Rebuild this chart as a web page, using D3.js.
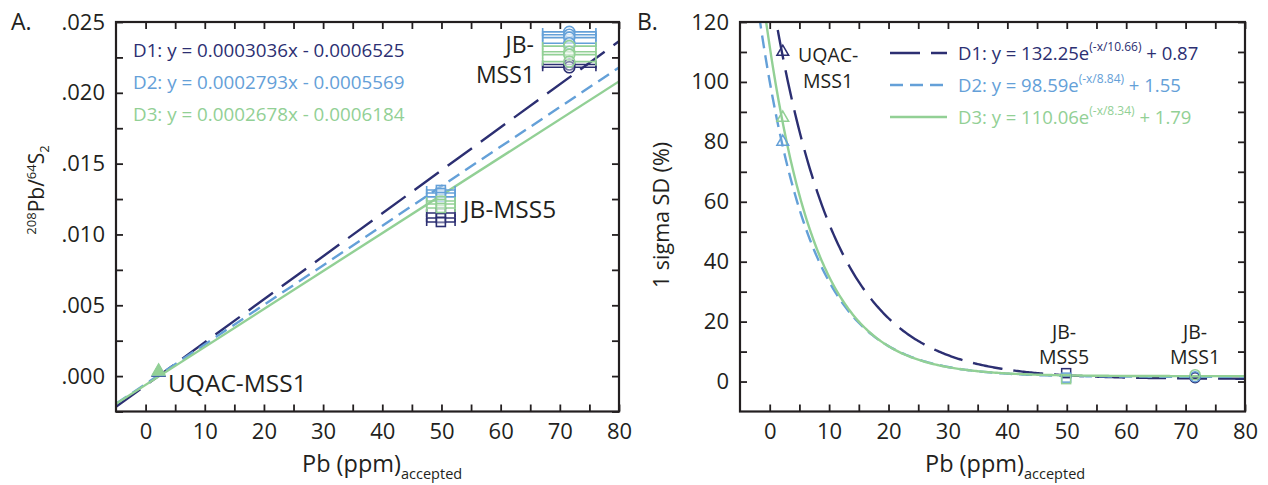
<!DOCTYPE html>
<html><head><meta charset="utf-8">
<script src="https://cdn.jsdelivr.net/npm/d3@7"></script>
<style>body{margin:0;background:#fff} text{font-family:"Open Sans",sans-serif;fill:#231f20}</style>
</head><body><svg id="c" width="1268" height="485"></svg>
<script>
// ---------- data ----------
const datasets = ["D1", "D2", "D3"];
const colors = ["#2c2f72", "#64a0d8", "#92d095"];
const dashes = ["30,11", "13,7", null];
// linear calibration fits (panel A)
const linSlope = [0.0003036, 0.0002793, 0.0002678];
const linIntercept = [-0.0006525, -0.0005569, -0.0006184];
const linLabels = ["D1: y = 0.0003036x - 0.0006525", "D2: y = 0.0002793x - 0.0005569", "D3: y = 0.0002678x - 0.0006184"];
// exponential fits (panel B)
const expAmp = [132.25, 98.59, 110.06];
const expTau = [10.66, 8.84, 8.34];
const expOff = [0.87, 1.55, 1.79];
const expLabelA = ["D1: y = 132.25e", "D2: y = 98.59e", "D3: y = 110.06e"];
const expLabelSup = ["(-x/10.66)", "(-x/8.84)", "(-x/8.34)"];
const expLabelB = [" + 0.87", " + 1.55", " + 1.79"];
// reference materials
const pbUQAC = 2.2, pbMSS5 = 49.9, pbMSS1 = 71.6;
const errMSS5 = 2.4, errMSS1 = 4.5;
// 208Pb/64S2 ratio replicates, per dataset D1, D2, D3
const ratioUQAC = [[0.00024], [0.00028], [0.00034]];
const ratioMSS5 = [[0.01152, 0.01116, 0.01088], [0.01314, 0.01293, 0.01265], [0.01236, 0.01215, 0.01187]];
const ratioMSS1 = [[0.0220, 0.0218], [0.0243, 0.0241, 0.0239, 0.0235], [0.0233, 0.0229, 0.0227, 0.0222]];
// 1 sigma SD (%) per dataset D1, D2, D3
const sdUQAC = [110, 80, 88];
const sdMSS5 = [2.8, 1.3, 0.8];
const sdMSS1 = [1.3, 1.6, 2.3];
// ticks
const xTickValues = [0, 10, 20, 30, 40, 50, 60, 70, 80];
const xTickLabels = ["0", "10", "20", "30", "40", "50", "60", "70", "80"];
const xMinorTicks = [5, 15, 25, 35, 45, 55, 65, 75];
const yTickValuesA = [0, 0.005, 0.010, 0.015, 0.020, 0.025];
const yTickLabelsA = [".000", ".005", ".010", ".015", ".020", ".025"];
const yMinorTicksA = [-0.0025, 0.0025, 0.0075, 0.0125, 0.0175, 0.0225];
const yTickValuesB = [0, 20, 40, 60, 80, 100, 120];
const yTickLabelsB = ["0", "20", "40", "60", "80", "100", "120"];
const yMinorTicksB = [10, 30, 50, 70, 90, 110];

// ---------- layout ----------
const svg = d3.select("#c");
const top_ = 22, bot = 411.5;
const xA = d3.scaleLinear().domain([-5, 80]).range([116, 619]);
const yA = d3.scaleLinear().domain([-0.0025, 0.025]).range([bot, top_]);
const xB = d3.scaleLinear().domain([-5, 80]).range([740, 1245]);
const yB = d3.scaleLinear().domain([-10, 120]).range([bot, top_]);
const ink = "#231f20";

function axes(x, y, yVals, yLabs, yMinor) {
  const g = svg.append("g");
  const L = x.range()[0], R = x.range()[1];
  const allX = xTickValues.concat(xMinorTicks);
  const allY = yVals.concat(yMinor);
  g.append("g").attr("transform", `translate(0,${bot})`)
    .call(d3.axisBottom(x).tickValues(allX).tickSize(-7).tickPadding(12)
      .tickFormat(d => { const i = xTickValues.indexOf(d); return i >= 0 ? xTickLabels[i] : ""; }));
  g.append("g").attr("transform", `translate(0,${top_})`)
    .call(d3.axisTop(x).tickValues(allX).tickSize(-7).tickFormat(""));
  g.append("g").attr("transform", `translate(${L},0)`)
    .call(d3.axisLeft(y).tickValues(allY).tickSize(-7).tickPadding(11)
      .tickFormat(d => { const i = yVals.indexOf(d); return i >= 0 ? yLabs[i] : ""; }));
  g.append("g").attr("transform", `translate(${R},0)`)
    .call(d3.axisRight(y).tickValues(allY).tickSize(-7).tickFormat(""));
  g.selectAll(".domain").remove();
  g.selectAll(".tick line").attr("stroke", ink).attr("stroke-width", 1.8);
  g.selectAll(".tick text").attr("font-size", 22).attr("font-family", "Open Sans").attr("fill", ink);
  g.append("rect").attr("x", L).attr("y", top_).attr("width", R - L).attr("height", bot - top_)
    .attr("fill", "none").attr("stroke", ink).attr("stroke-width", 2.2);
}

// two-line label as one text element
function twoLine(x, y, lines, size, anchor, gap, dx2) {
  const t = svg.append("text").attr("x", x).attr("y", y).attr("font-size", size).attr("text-anchor", anchor);
  t.append("tspan").attr("x", x).text(lines[0]);
  t.append("tspan").attr("x", x + (dx2 || 0)).attr("dy", gap).text(lines[1]);
}

// clip paths
const defs = svg.append("defs");
defs.append("clipPath").attr("id", "clipA").append("rect")
  .attr("x", 116).attr("y", top_).attr("width", 503).attr("height", bot - top_);
defs.append("clipPath").attr("id", "clipB").append("rect")
  .attr("x", 740).attr("y", top_).attr("width", 505).attr("height", bot - top_);

// ---------- Panel A ----------
const gA = svg.append("g").attr("clip-path", "url(#clipA)");
datasets.forEach((d, i) => {
  const xs = xA.domain();
  gA.append("path")
    .datum(xs.map(v => [v, linSlope[i] * v + linIntercept[i]]))
    .attr("d", d3.line().x(p => xA(p[0])).y(p => yA(p[1])))
    .attr("fill", "none").attr("stroke", colors[i]).attr("stroke-width", 2.4)
    .attr("stroke-dasharray", dashes[i]);
});

function errBarsA(xv, err, vals, color) {
  vals.forEach(v => {
    const y = yA(v), x0 = xA(xv - err), x1 = xA(xv + err);
    gA.append("line").attr("x1", x0).attr("x2", x1).attr("y1", y).attr("y2", y)
      .attr("stroke", color).attr("stroke-width", 1.6);
    [x0, x1].forEach(xx => gA.append("line").attr("x1", xx).attr("x2", xx).attr("y1", y - 4).attr("y2", y + 4)
      .attr("stroke", color).attr("stroke-width", 1.6));
  });
}
const drawOrder = [0, 1, 2];
drawOrder.forEach(i => {
  errBarsA(pbMSS1, errMSS1, ratioMSS1[i], colors[i]);
  errBarsA(pbMSS5, errMSS5, ratioMSS5[i], colors[i]);
});
drawOrder.forEach(i => {
  ratioMSS1[i].forEach(v => gA.append("circle").attr("cx", xA(pbMSS1)).attr("cy", yA(v)).attr("r", 5.5)
    .attr("fill", "white").attr("fill-opacity", 0.35).attr("stroke", colors[i]).attr("stroke-width", 1.6));
  ratioMSS5[i].forEach(v => gA.append("rect").attr("x", xA(pbMSS5) - 4.5).attr("y", yA(v) - 4.5)
    .attr("width", 9).attr("height", 9)
    .attr("fill", "white").attr("fill-opacity", 0.35).attr("stroke", colors[i]).attr("stroke-width", 1.6));
  ratioUQAC[i].forEach(v => gA.append("path")
    .attr("transform", `translate(${xA(pbUQAC)},${yA(v)})`)
    .attr("d", d3.symbol(d3.symbolTriangle, 70)())
    .attr("fill", i === 2 ? colors[i] : "white").attr("stroke", colors[i]).attr("stroke-width", 1.4));
});
axes(xA, yA, yTickValuesA, yTickLabelsA, yMinorTicksA);

// legend A
linLabels.forEach((t, i) => {
  svg.append("text").attr("x", 133).attr("y", 57 + i * 32).attr("font-size", 18.8)
    .style("fill", colors[i]).text(t);
});
// labels A
twoLine(534, 53, ["JB-", "MSS1"], 23, "end", 29.5, 1);
svg.append("text").attr("x", 463).attr("y", 218).attr("font-size", 24.5).text("JB-MSS5");
svg.append("text").attr("x", 168).attr("y", 392).attr("font-size", 24.5).text("UQAC-MSS1");
svg.append("text").attr("x", 11).attr("y", 30).attr("font-size", 23).text("A.");
// y title A
const ytA = svg.append("text").attr("transform", "translate(44,190) rotate(-90)")
  .attr("text-anchor", "middle").attr("font-size", 21);
ytA.append("tspan").attr("font-size", 13).attr("dy", -8).text("208");
ytA.append("tspan").attr("dy", 8).text("Pb/");
ytA.append("tspan").attr("font-size", 13).attr("dy", -8).text("64");
ytA.append("tspan").attr("dy", 8).text("S");
ytA.append("tspan").attr("font-size", 13).attr("dy", 5).text("2");
// x title
function xTitle(x) {
  const t = svg.append("text").attr("x", x).attr("y", 472).attr("font-size", 23.5);
  t.append("tspan").text("Pb (ppm)");
  t.append("tspan").attr("font-size", 14.5).attr("dy", 7).text("accepted");
}
xTitle(302);

// ---------- Panel B ----------
const gB = svg.append("g").attr("clip-path", "url(#clipB)");
const xsB = d3.range(-5, 80.01, 0.25);
datasets.forEach((d, i) => {
  gB.append("path")
    .datum(xsB.map(v => [v, expAmp[i] * Math.exp(-v / expTau[i]) + expOff[i]]))
    .attr("d", d3.line().x(p => xB(p[0])).y(p => yB(p[1])))
    .attr("fill", "none").attr("stroke", colors[i]).attr("stroke-width", 2.4)
    .attr("stroke-dasharray", dashes[i]);
});
drawOrder.forEach(i => {
  gB.append("path").attr("transform", `translate(${xB(pbUQAC)},${yB(sdUQAC[i])})`)
    .attr("d", d3.symbol(d3.symbolTriangle, 60)())
    .attr("fill", "none").attr("stroke", colors[i]).attr("stroke-width", 1.5);
  gB.append("rect").attr("x", xB(pbMSS5) - 4.5).attr("y", yB(sdMSS5[i]) - 4.5).attr("width", 9).attr("height", 9)
    .attr("fill", "none").attr("stroke", colors[i]).attr("stroke-width", 1.5);
  gB.append("circle").attr("cx", xB(pbMSS1)).attr("cy", yB(sdMSS1[i])).attr("r", 5)
    .attr("fill", "none").attr("stroke", colors[i]).attr("stroke-width", 1.5);
});
axes(xB, yB, yTickValuesB, yTickLabelsB, yMinorTicksB);

// legend B
datasets.forEach((d, i) => {
  const y = 53 + i * 32;
  svg.append("line").attr("x1", 890).attr("x2", 947).attr("y1", y).attr("y2", y)
    .attr("stroke", colors[i]).attr("stroke-width", 2.6).attr("stroke-dasharray", dashes[i]);
  const t = svg.append("text").attr("x", 958).attr("y", y + 7).attr("font-size", 18.5).style("fill", colors[i]);
  t.append("tspan").text(expLabelA[i]);
  t.append("tspan").attr("font-size", 12).attr("dy", -9).text(expLabelSup[i]);
  t.append("tspan").attr("dy", 9).text(expLabelB[i]);
});
// labels B
twoLine(798, 62, ["UQAC-", "MSS1"], 19.5, "start", 25.5, 5);
twoLine(1064, 339, ["JB-", "MSS5"], 19.5, "middle", 25, 0);
twoLine(1195, 339, ["JB-", "MSS1"], 19.5, "middle", 25, 0);
svg.append("text").attr("x", 637).attr("y", 30).attr("font-size", 23).text("B.");
svg.append("text").attr("transform", "translate(669,215) rotate(-90)").attr("text-anchor", "middle")
  .attr("font-size", 21.5).text("1 sigma SD (%)");
xTitle(925);
</script></body></html>
